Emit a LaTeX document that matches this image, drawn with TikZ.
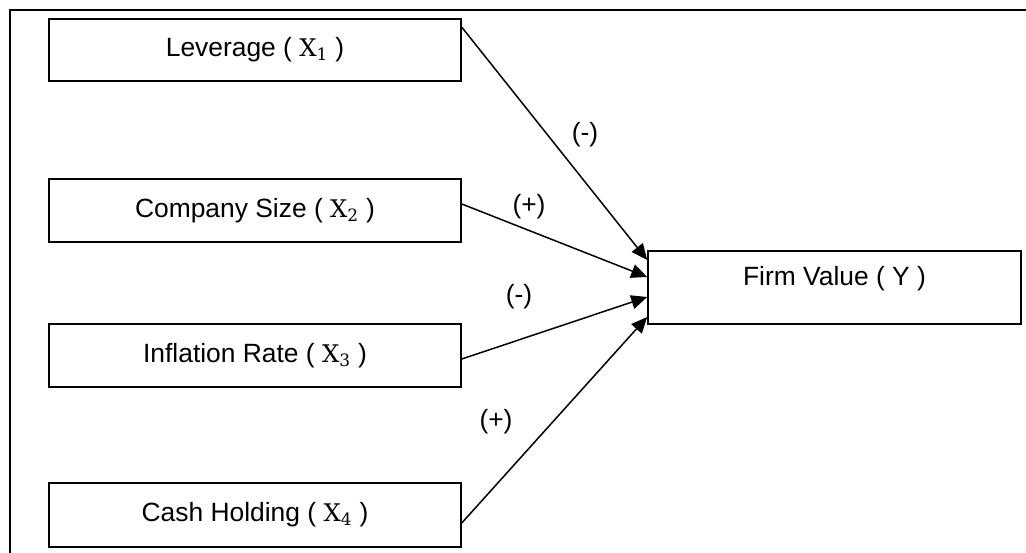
\documentclass[tikz,border=0pt]{standalone}
\usepackage{amsmath}
\usepackage{amssymb}
\usepackage[no-math]{fontspec}
\setmainfont{Liberation Sans}
\newfontfamily\xfont{DejaVu Serif}[Scale=0.92]
\newcommand{\xvar}[1]{{\xfont X\textsubscript{#1}}}
\usepackage{tikz}
\usepackage{xcolor}
\usetikzlibrary{positioning,arrows.meta}

\begin{document}
\begin{tikzpicture}[x=1pt, y=-1pt,
		txt/.style={font=\fontsize{26.4}{32}\selectfont},
		var/.style={txt, draw, line width=1.6pt, inner sep=0pt, minimum width=412pt, minimum height=63pt},
		arr/.style={-{Triangle[length=16pt,width=14pt]}, line width=1.5pt}]
		\useasboundingbox (0, 0) rectangle (1026, 553);
		\draw[line width=1.8pt] (1026, 10) -- (10, 10) -- (10, 553);
		\node[var, minimum height=62pt] (lev) at (255, 50) {Leverage ( \xvar{1} )};
		\node[var] (size) at (255, 210.5) {Company Size ( \xvar{2} )};
		\node[var] (infl) at (255, 355.5) {Inflation Rate ( \xvar{3} )};
		\node[var, minimum height=64pt] (cash) at (255, 515) {Cash Holding ( \xvar{4} )};
		\node[var, minimum width=373pt, minimum height=73pt, text height=19pt, text depth=22pt] (firm) at (834.5, 287.5) {Firm Value ( Y )};
		\draw[arr] ([yshift=-9pt]lev.north east) -- ([yshift=27.5pt]firm.west);
		\draw[arr] ([yshift=6.5pt]size.east) -- ([yshift=10.5pt]firm.west);
		\draw[arr] ([yshift=-3.5pt]infl.east) -- ([yshift=-9.5pt]firm.west);
		\draw[arr] ([yshift=-8pt]cash.east) -- ([yshift=-29.5pt]firm.west);
		\node[txt] (s1) at (585, 135) {(-)};
		\node[txt] (s2) at (529, 207) {(+)};
		\node[txt] (s3) at (519, 297) {(-)};
		\node[txt] (s4) at (496, 422) {(+)};
	\end{tikzpicture}
\end{document}
